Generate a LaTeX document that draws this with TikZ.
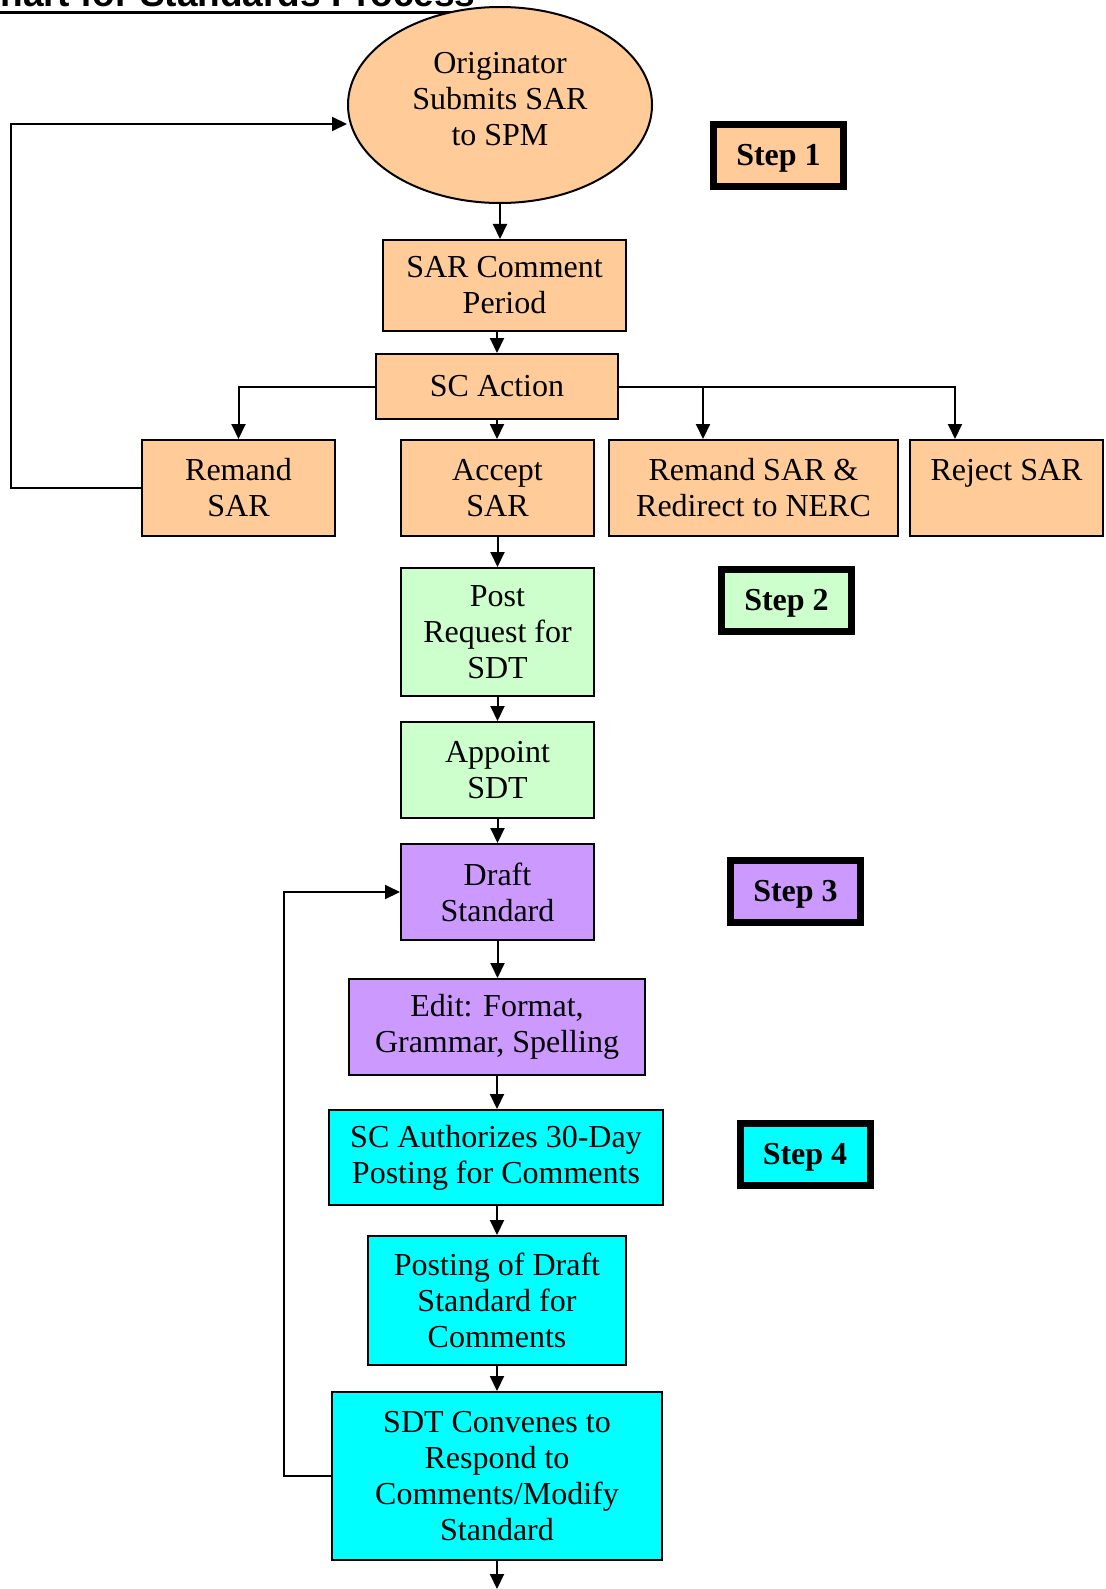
\documentclass[tikz,border=0pt]{standalone}
\usepackage{fontspec}
\setmainfont{Liberation Serif}
\newfontfamily\titlefont{Liberation Sans}
\usetikzlibrary{shapes.geometric,arrows.meta}
\definecolor{sarorange}{HTML}{FFCC99}
\definecolor{sdtgreen}{HTML}{CCFFCC}
\definecolor{draftpurple}{HTML}{CC99FF}
\definecolor{postcyan}{HTML}{00FFFF}
\tikzset{
  box/.style={draw, line width=1pt, inner sep=0pt, align=center,
    font=\fontsize{16}{18}\selectfont},
  stepbox/.style={draw, line width=3.5pt, inner sep=0pt, minimum width=65pt,
    minimum height=31pt, text depth=1pt, font=\fontsize{16}{18}\selectfont\bfseries},
  arr/.style={line width=1pt, -{Triangle[length=7.5pt,width=7pt]}},
}
\begin{document}
\begin{tikzpicture}[x=0.5pt,y=-0.5pt]
                \useasboundingbox (0,0) rectangle (1106,1589);
                
                % Drawing title (cut at the top)
                \node [anchor=base west, inner sep=0pt, font=\titlefont\fontsize{18.5}{20}\selectfont\bfseries] (title) at (0,7) {hart for Standards Process};
                \draw [line width=1.5pt] ([yshift=-2.75pt]title.base west) -- ([yshift=-2.75pt]title.base east);
                
                % Drawing step 1 boxes
                \node [box, ellipse, fill=sarorange, minimum width=152pt, minimum height=98pt] (orig) at (500,105) {Originator\\Submits SAR\\to SPM\\[-12pt]\mbox{}};
                \node [stepbox, fill=sarorange] (step1) at (778.5,155.5) {Step 1};
                \node [box, fill=sarorange, minimum width=121.5pt, minimum height=45.5pt] (sarc) at (504.5,285.5) {SAR Comment\\Period};
                \node [box, fill=sarorange, minimum width=121pt, minimum height=32.5pt] (scact) at (497,386.5) {SC Action};
                \node [box, fill=sarorange, minimum width=96.5pt, minimum height=48pt] (remand) at (238.5,488) {Remand\\SAR};
                \node [box, fill=sarorange, minimum width=96.5pt, minimum height=48pt] (accept) at (497.5,488) {Accept\\SAR};
                \node [box, fill=sarorange, minimum width=144.5pt, minimum height=48pt] (redir) at (753.5,488) {Remand SAR \&\\Redirect to NERC};
                \node [box, fill=sarorange, minimum width=96.5pt, minimum height=48pt] (reject) at (1006.5,488) {Reject SAR\\\mbox{}};
                
                % Drawing step 2 boxes
                \node [box, fill=sdtgreen, minimum width=96.5pt, minimum height=64pt] (postreq) at (497.5,632) {Post\\Request for\\SDT};
                \node [stepbox, fill=sdtgreen] (step2) at (786.5,600.5) {Step 2};
                \node [box, fill=sdtgreen, minimum width=96.5pt, minimum height=48pt] (appoint) at (497.5,770) {Appoint\\SDT};
                
                % Drawing step 3 boxes
                \node [box, fill=draftpurple, minimum width=96.5pt, minimum height=48pt] (draft) at (497.5,892) {Draft\\Standard};
                \node [stepbox, fill=draftpurple] (step3) at (795.5,891.5) {Step 3};
                \node [box, fill=draftpurple, minimum width=148pt, minimum height=48pt] (edit) at (497,1027) {Edit: Format,\\Grammar, Spelling};
                
                % Drawing step 4 boxes
                \node [box, fill=postcyan, minimum width=167pt, minimum height=47.5pt] (auth) at (496,1157.5) {SC Authorizes 30-Day\\Posting for Comments};
                \node [stepbox, fill=postcyan] (step4) at (805,1154.5) {Step 4};
                \node [box, fill=postcyan, minimum width=129pt, minimum height=64.5pt] (posting) at (497,1300.5) {Posting of Draft\\Standard for\\Comments};
                \node [box, fill=postcyan, minimum width=165pt, minimum height=84pt] (convene) at (497,1476) {SDT Convenes to\\Respond to\\Comments/Modify\\Standard};
                
                % Marking loose ends
                \coordinate (redirin) at ([xshift=-25.25pt]redir.north);
                \coordinate (rejectin) at ([xshift=-25.75pt]reject.north);
                \coordinate (remloop) at (11,124);
                \coordinate (draftloop) at (284,1476);
                \coordinate (endflow) at (497,1589);
                
                % Drawing arrows down the main column
                \draw [arr] (orig.south) -- (orig.south |- sarc.north);
                \draw [arr] (sarc.south -| scact.north) -- (scact.north);
                \draw [arr] (scact.south) -- (scact.south |- accept.north);
                \draw [arr] (accept.south) -- (postreq.north);
                \draw [arr] (postreq.south) -- (appoint.north);
                \draw [arr] (appoint.south) -- (draft.north);
                \draw [arr] (draft.south) -- (draft.south |- edit.north);
                \draw [arr] (edit.south) -- (edit.south |- auth.north);
                \draw [arr] (auth.south -| posting.north) -- (posting.north);
                \draw [arr] (posting.south) -- (convene.north);
                \draw [arr] (convene.south) -- (endflow);
                
                % Drawing branches of SC Action
                \draw [arr] (scact.west) -| (remand.north);
                \draw [arr] (scact.east) -| (rejectin);
                \draw [arr] (scact.east -| redirin) -- (redirin);
                
                % Drawing loop back to originator
                \draw [arr] (remand.west) -- (remand.west -| remloop) -- (remloop) -- (remloop -| orig.west);
                
                % Drawing loop back to draft
                \draw [arr] (convene.west) -- (draftloop) |- (draft.west);
            \end{tikzpicture}
\end{document}
